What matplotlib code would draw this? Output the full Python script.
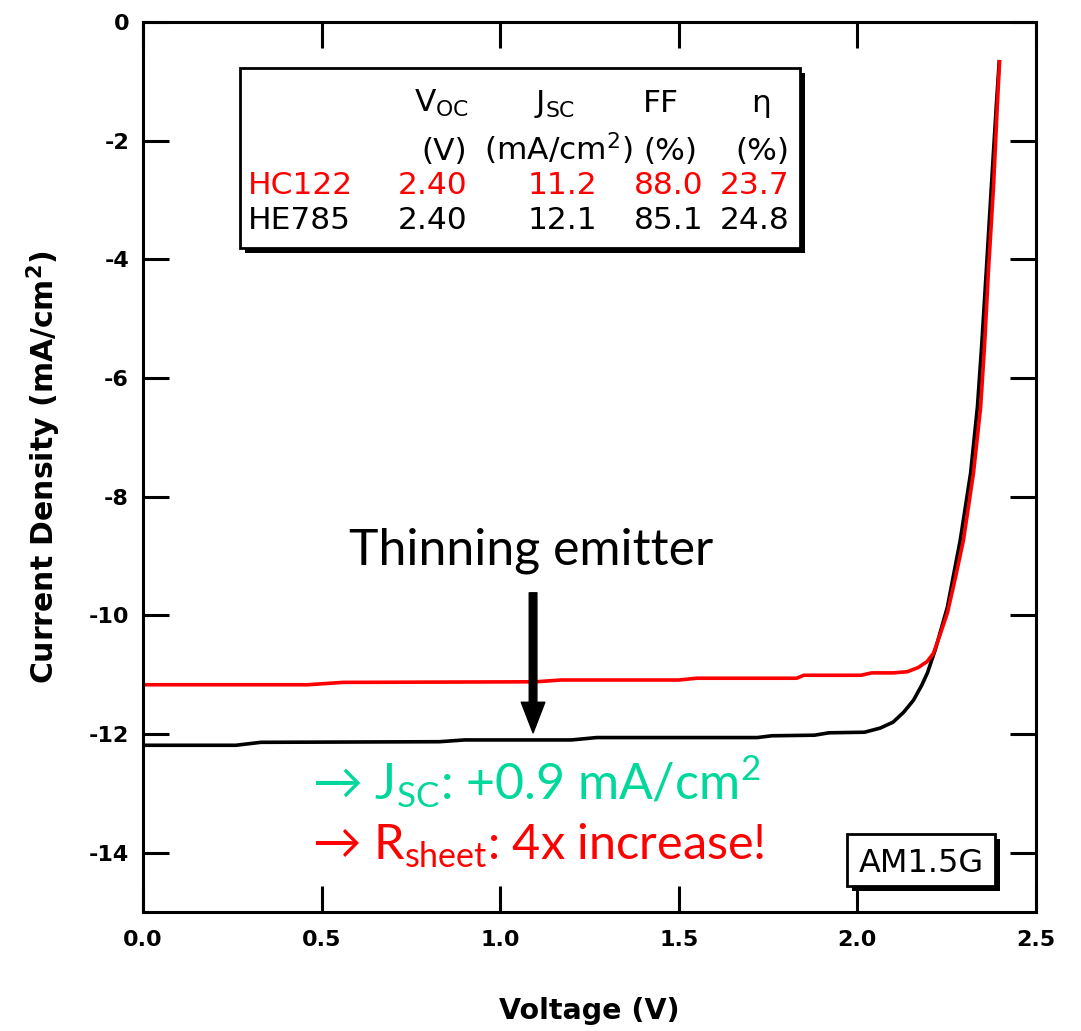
import matplotlib
matplotlib.use('Agg')
import matplotlib.pyplot as plt
from matplotlib.patches import Rectangle

plt.rcParams['mathtext.fontset'] = 'custom'
plt.rcParams['mathtext.rm'] = 'Lato'
plt.rcParams['mathtext.sf'] = 'DejaVu Sans'
plt.rcParams['mathtext.bf'] = 'DejaVu Sans:bold'
plt.rcParams['axes.unicode_minus'] = False

# ---- data ----
black_v = [0.0, 0.26, 0.33, 0.83, 0.90, 1.20, 1.27, 1.72, 1.76, 1.88, 1.92, 2.02,
           2.064, 2.10, 2.13, 2.157, 2.18, 2.196, 2.218, 2.252, 2.288, 2.317, 2.336,
           2.348, 2.361, 2.375, 2.389, 2.397]
black_j = [-12.19, -12.19, -12.14, -12.13, -12.10, -12.10, -12.06, -12.06, -12.03, -12.02,
           -11.98, -11.97, -11.90, -11.80, -11.63, -11.43, -11.18, -10.97, -10.58, -9.86,
           -8.73, -7.60, -6.49, -5.45, -4.18, -2.78, -1.40, -0.67]
red_v = [0.0, 0.46, 0.56, 1.10, 1.17, 1.50, 1.55, 1.83, 1.85, 2.01, 2.04, 2.10, 2.14,
         2.17, 2.195, 2.213, 2.23, 2.252, 2.275, 2.297, 2.325, 2.345, 2.356, 2.367,
         2.381, 2.392, 2.398]
red_j = [-11.17, -11.17, -11.13, -11.12, -11.09, -11.09, -11.06, -11.06, -11.01, -11.01,
         -10.97, -10.97, -10.95, -10.88, -10.78, -10.64, -10.35, -9.96, -9.35, -8.73,
         -7.60, -6.49, -5.45, -4.18, -2.78, -1.37, -0.67]

x_ticks = [0.0, 0.5, 1.0, 1.5, 2.0, 2.5]
x_ticklabels = ['0.0', '0.5', '1.0', '1.5', '2.0', '2.5']
y_ticks = [0, -2, -4, -6, -8, -10, -12, -14]
y_ticklabels = ['0', '-2', '-4', '-6', '-8', '-10', '-12', '-14']

samples = ['HC122', 'HE785']
sample_colors = ['#ff0000', '#000000']
voc = ['2.40', '2.40']
jsc = ['11.2', '12.1']
ff = ['88.0', '85.1']
eta = ['23.7', '24.8']

arrow_v = 1.092
arrow_j_start = -9.62
arrow_j_end = -11.98

# ---- figure ----
W, H = 1081, 1031
fig = plt.figure(figsize=(W / 100, H / 100), dpi=100)
ax = fig.add_axes([143 / W, 1 - 912 / H, (1036 - 143) / W, (912 - 22) / H])

def F(x, y):
    return (x / W, 1 - y / H)

ax.plot(black_v, black_j, color='black', lw=2.6, solid_joinstyle='round')
ax.plot(red_v, red_j, color='#ff0000', lw=2.6, solid_joinstyle='round')

ax.set_xlim(0, 2.5)
ax.set_ylim(-15, 0)
ax.set_xticks(x_ticks)
ax.set_xticklabels(x_ticklabels)
ax.set_yticks(y_ticks)
ax.set_yticklabels(y_ticklabels)
ax.tick_params(direction='in', length=18.5, width=2.2, top=True, right=True,
               labelsize=16)
ax.tick_params(axis='x', pad=13)
ax.tick_params(axis='y', pad=10)
for lab in ax.get_xticklabels() + ax.get_yticklabels():
    lab.set_fontweight('bold')
for s in ax.spines.values():
    s.set_linewidth(2.2)

ax.set_xlabel('Voltage (V)', fontsize=20.5, fontweight='bold')
ax.set_ylabel(r'Current Density (mA/cm$^{\mathbf{2}}$)', fontsize=21.5, fontweight='bold')
ax.xaxis.set_label_coords(0.5, -0.095)
ax.yaxis.set_label_coords(-0.09, 0.5)

# arrow
ax.annotate('', xy=(arrow_v, arrow_j_end), xytext=(arrow_v, arrow_j_start),
            arrowprops=dict(arrowstyle='simple,head_length=2.2,head_width=1.7,tail_width=0.55',
                            color='black', shrinkA=0, shrinkB=0, mutation_scale=10))

ann_font = ['Lato', 'DejaVu Sans']
fig.text(*F(531, 565), 'Thinning emitter', ha='center', va='baseline',
         fontsize=36, family=ann_font, color='black')
fig.text(*F(312, 800), r'→ J$_{\mathrm{SC}}$: +0.9 mA/cm$^{\mathrm{2}}$', ha='left', va='baseline',
         fontsize=36, family=ann_font, color='#00D89B')
fig.text(*F(312, 860), r'→ R$_{\mathrm{sheet}}$: 4x increase!', ha='left', va='baseline',
         fontsize=35, family=ann_font, color='#ff0000')

# boxes with shadow
def shadow_box(x0, y0, x1, y1, off=5, lw=2.0):
    sh = Rectangle(F(x0 + off, y1 + off), (x1 - x0) / W, (y1 - y0) / H,
                   transform=fig.transFigure, facecolor='black', edgecolor='none', zorder=5)
    bx = Rectangle(F(x0, y1), (x1 - x0) / W, (y1 - y0) / H,
                   transform=fig.transFigure, facecolor='white', edgecolor='black',
                   lw=lw, zorder=6)
    fig.add_artist(sh)
    fig.add_artist(bx)

shadow_box(240, 68, 800, 248)
shadow_box(847, 834, 995, 886)

tfs = 22.5
def T(x, y, s, ha='right', color='black'):
    fig.text(*F(x, y), s, ha=ha, va='baseline', fontsize=tfs, color=color, zorder=7)

T(469, 112, r'$\mathsf{V_{OC}}$')
T(555, 112, r'$\mathsf{J_{SC}}$', ha='center')
T(679, 112, 'FF')
T(761, 112, 'η', ha='center')
T(467, 160, '(V)')
T(633, 160, r'(mA/cm$^{\mathsf{2}}$)')
T(697, 160, '(%)')
T(789, 160, '(%)')
rows_y = [194, 229]
for i in range(2):
    c = sample_colors[i]
    T(248, rows_y[i], samples[i], ha='left', color=c)
    T(467, rows_y[i], voc[i], color=c)
    T(597, rows_y[i], jsc[i], color=c)
    T(704, rows_y[i], ff[i], color=c)
    T(789, rows_y[i], eta[i], color=c)

fig.text(*F(921, 872), 'AM1.5G', ha='center', va='baseline', fontsize=23, zorder=7)

fig.savefig('out.png', dpi=100)
